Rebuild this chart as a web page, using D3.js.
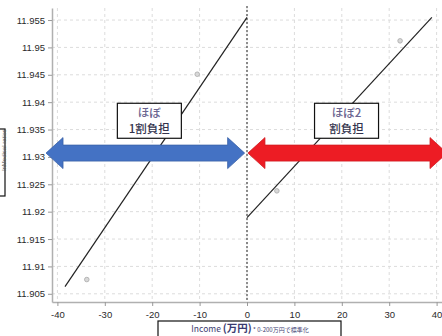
<!DOCTYPE html>
<html>
<head>
<meta charset="utf-8">
<script src="https://cdn.jsdelivr.net/npm/d3@7"></script>
<style>
  html, body { margin: 0; padding: 0; background: #fff; }
  svg { display: block; }
  text { font-family: "Liberation Sans", Arial, sans-serif; }
  .jp { font-family: "Noto Sans CJK JP", "Noto Sans", sans-serif; }
</style>
</head>
<body>
<script>
// Axis ticks
const xTicks = [-40, -30, -20, -10, 0, 10, 20, 30, 40];
const yTicks = [11.905, 11.91, 11.915, 11.92, 11.925, 11.93, 11.935, 11.94, 11.945, 11.95, 11.955];

// Fitted lines on each side of the cutoff (income, fitted value)
const leftFitX = [-38.4, 0];
const leftFitY = [11.9063, 11.9555];
const rightFitX = [0, 39.0];
const rightFitY = [11.9189, 11.9555];

// Binned means
const pointX = [-33.8, -10.5, 6.3, 32.3];
const pointY = [11.9076, 11.9451, 11.9238, 11.9512];

// Annotation labels
const leftLabel = ["ほぼ", "1割負担"];
const rightLabel = ["ほぼ2", "割負担"];
const xAxisTitle = ["Income ", "(万円)", " * 0-200万円で標準化"];
const yAxisTitle = "lnMedical ratios";

const W = 442, H = 336;
const svg = d3.select("body").append("svg").attr("width", W).attr("height", H);

const x = d3.scaleLinear().domain([-41.14, 41.14]).range([52, 442]);
const y = d3.scaleLinear().domain([11.9035, 11.9572]).range([302, 8]);

// Grid
const grid = svg.append("g");
grid.selectAll("line.v").data(xTicks).join("line")
  .attr("x1", d => x(d)).attr("x2", d => x(d))
  .attr("y1", y.range()[1]).attr("y2", y.range()[0])
  .attr("stroke", "#dcdcdc").attr("stroke-dasharray", "3,3");
grid.selectAll("line.h").data(yTicks).join("line")
  .attr("x1", x.range()[0]).attr("x2", x.range()[1])
  .attr("y1", d => y(d)).attr("y2", d => y(d))
  .attr("stroke", "#dcdcdc").attr("stroke-dasharray", "3,3");

// Axes
const xAxis = svg.append("g").attr("transform", `translate(0,${y.range()[0]})`)
  .call(d3.axisBottom(x).tickValues(xTicks).tickSize(4).tickSizeOuter(0).tickFormat(d => String(d)));
const yAxis = svg.append("g").attr("transform", `translate(${x.range()[0]},0)`)
  .call(d3.axisLeft(y).tickValues(yTicks).tickSize(4).tickSizeOuter(0).tickFormat(d => String(d)));
[xAxis, yAxis].forEach(g => {
  g.select(".domain").attr("stroke", "#b0b0b0").attr("stroke-width", 1.5);
  g.selectAll(".tick line").attr("stroke", "#999");
  g.selectAll(".tick text").attr("fill", "#2a2a2a").attr("font-size", 9.5)
    .attr("font-family", "'Liberation Sans', Arial, sans-serif");
});
xAxis.selectAll(".tick text").attr("dy", "0.9em");

// Cutoff line
svg.append("line")
  .attr("x1", x(0)).attr("x2", x(0))
  .attr("y1", y.range()[1] - 2).attr("y2", y.range()[0])
  .attr("stroke", "#222").attr("stroke-width", 1).attr("stroke-dasharray", "2,2");

// Fitted lines
const line = d3.line().x(d => x(d[0])).y(d => y(d[1]));
svg.append("path").datum(d3.zip(leftFitX, leftFitY)).attr("d", line)
  .attr("fill", "none").attr("stroke", "#222").attr("stroke-width", 1.2);
svg.append("path").datum(d3.zip(rightFitX, rightFitY)).attr("d", line)
  .attr("fill", "none").attr("stroke", "#222").attr("stroke-width", 1.2);

// Binned means
svg.selectAll("circle.pt").data(d3.zip(pointX, pointY)).join("circle")
  .attr("cx", d => x(d[0])).attr("cy", d => y(d[1])).attr("r", 2.3)
  .attr("fill", "#d8d8d8").attr("stroke", "#a8a8a8").attr("stroke-width", 0.8);

// Double-headed arrows
function doubleArrow(x0, x1, cy, fill, stroke) {
  const bh = 8, hh = 15.5, hl = 17;
  const pts = [
    [x0, cy], [x0 + hl, cy - hh], [x0 + hl, cy - bh], [x1 - hl, cy - bh], [x1 - hl, cy - hh],
    [x1, cy], [x1 - hl, cy + hh], [x1 - hl, cy + bh], [x0 + hl, cy + bh], [x0 + hl, cy + hh]
  ];
  svg.append("polygon").attr("points", pts.map(p => p.join(",")).join(" "))
    .attr("fill", fill).attr("stroke", stroke).attr("stroke-width", 0.8);
}
const arrowY = 11.9307;
doubleArrow(x(-42.4), x(-0.5), y(arrowY), "#4472c4", "#3a62a8");
doubleArrow(x(0.2), x(42.2), y(arrowY), "#ed1c24", "#d01a20");

// Labelled boxes
function labelBox(cx, cy, lines) {
  const w = 64, h = 35;
  svg.append("rect").attr("x", cx - w / 2).attr("y", cy - h / 2).attr("width", w).attr("height", h)
    .attr("fill", "#fff").attr("stroke", "#111").attr("stroke-width", 1.2);
  svg.append("text").attr("class", "jp").attr("x", cx).attr("y", cy - 4)
    .attr("text-anchor", "middle").attr("font-size", 11.5).attr("font-weight", 500)
    .attr("fill", "#6a6490").text(lines[0]);
  svg.append("text").attr("class", "jp").attr("x", cx).attr("y", cy + 12)
    .attr("text-anchor", "middle").attr("font-size", 11.5).attr("font-weight", 500)
    .attr("fill", "#33334d").text(lines[1]);
}
labelBox(x(-20.6), y(11.9366), leftLabel);
labelBox(x(21.0), y(11.9366), rightLabel);

// X axis title box
svg.append("rect").attr("x", 158).attr("y", 321).attr("width", 183).attr("height", 20)
  .attr("fill", "#fff").attr("stroke", "#111").attr("stroke-width", 1.2);
const xt = svg.append("text").attr("class", "jp").attr("x", 250).attr("y", 332)
  .attr("text-anchor", "middle").attr("fill", "#3b3b70");
xt.append("tspan").attr("font-size", 8.5).text(xAxisTitle[0]);
xt.append("tspan").attr("font-size", 10.5).attr("font-weight", "bold").text(xAxisTitle[1]);
xt.append("tspan").attr("font-size", 6).text(xAxisTitle[2]);

// Y axis title in its own box at the left edge
svg.append("rect").attr("x", -20).attr("y", 129).attr("width", 25).attr("height", 67)
  .attr("fill", "#fff").attr("stroke", "#111").attr("stroke-width", 1.2);
svg.append("text").attr("transform", "translate(5.5,150) rotate(-90)")
  .attr("text-anchor", "middle").attr("font-size", 6).attr("fill", "#555").text(yAxisTitle);
</script>
</body>
</html>
